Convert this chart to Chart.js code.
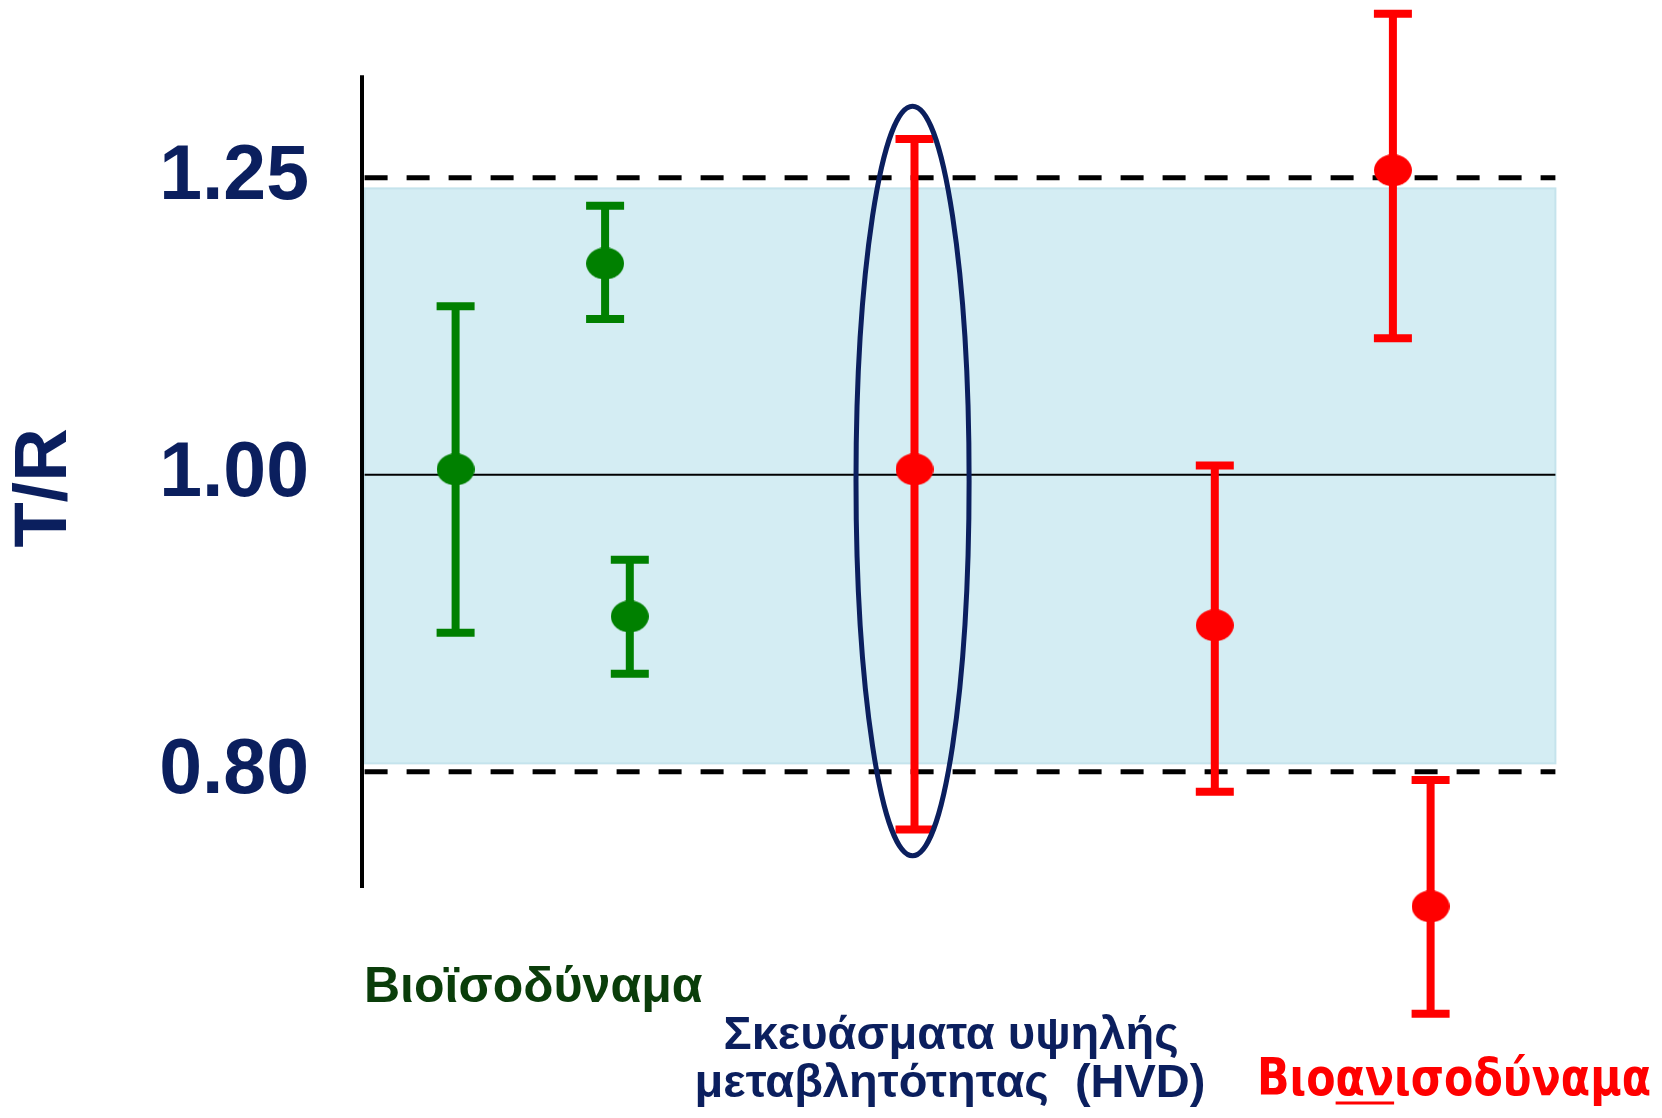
<!DOCTYPE html>
<html>
<head>
<meta charset="utf-8">
<script src="https://cdn.jsdelivr.net/npm/chart.js@4.4.1/dist/chart.umd.min.js"></script>
<style>
  html, body { margin: 0; padding: 0; background: #fff; }
  #wrap { width: 1662px; height: 1118px; }
</style>
</head>
<body>
<div id="wrap"><canvas id="myChart" width="1662" height="1118"></canvas></div>
<script>
// tick labels on the T/R axis (log scale)
const tickValues = [0.8, 1.0, 1.25];

// bioequivalent products (green)
const greenX = [0.72, 1.87, 2.06];
const greenY = [1.004, 1.172, 0.899];
const greenLo = [0.888, 1.124, 0.861];
const greenHi = [1.135, 1.224, 0.938];

// HVD + non-bioequivalent products (red)
const redX = [4.25, 6.56, 7.93, 8.22];
const redY = [1.004, 0.893, 1.257, 0.723];
const redLo = [0.766, 0.788, 1.108, 0.667];
const redHi = [1.287, 1.007, 1.414, 0.795];

// acceptance limits and shaded band
const limits = [0.8, 1.25];
const band = [0.805, 1.24];
const bandX = [0.02, 9.18];
const axisSpan = [0.733, 1.35];

// ellipse round the HVD product
const ellipseX = [3.80, 4.67];
const ellipseY = [0.751, 1.319];

const labels = {
  title: "T/R",
  bio: "Βιοϊσοδύναμα",
  hvd1: "Σκευάσματα υψηλής",
  hvd2: "μεταβλητότητας  (HVD)",
  nonBio: ["Βιο", "αν", "ισοδύναμα"],
};

const NAVY = "#0b1f5e";

function dot(color) {
  const c = document.createElement("canvas");
  c.width = 38;
  c.height = 32;
  const g = c.getContext("2d");
  g.fillStyle = color;
  g.beginPath();
  g.ellipse(19, 16, 19, 16, 0, 0, Math.PI * 2);
  g.fill();
  return c;
}

const errors = {
  0: { x: greenX, lo: greenLo, hi: greenHi, color: "#008000" },
  1: { x: redX, lo: redLo, hi: redHi, color: "#ff0000" },
};

const extras = {
  id: "extras",
  beforeDatasetsDraw(chart) {
    const { ctx, scales: { x, y } } = chart;
    ctx.save();
    ctx.fillStyle = "rgb(212,237,243)";
    ctx.strokeStyle = "rgb(197,227,236)";
    ctx.lineWidth = 2;
    const x0 = x.getPixelForValue(bandX[0]);
    const x1 = x.getPixelForValue(bandX[1]);
    const y0 = y.getPixelForValue(band[1]);
    const y1 = y.getPixelForValue(band[0]);
    ctx.fillRect(x0, y0, x1 - x0, y1 - y0);
    ctx.strokeRect(x0, y0, x1 - x0, y1 - y0);
    ctx.restore();
  },
  beforeDatasetDraw(chart, args) {
    const e = errors[args.index];
    if (!e) return;
    const { ctx, scales: { x, y } } = chart;
    ctx.save();
    ctx.strokeStyle = e.color;
    ctx.lineWidth = 8;
    e.x.forEach((xv, i) => {
      const px = x.getPixelForValue(xv);
      const top = y.getPixelForValue(e.hi[i]);
      const bot = y.getPixelForValue(e.lo[i]);
      ctx.beginPath();
      ctx.moveTo(px, top);
      ctx.lineTo(px, bot);
      ctx.moveTo(px - 19, top);
      ctx.lineTo(px + 19, top);
      ctx.moveTo(px - 19, bot);
      ctx.lineTo(px + 19, bot);
      ctx.stroke();
    });
    ctx.restore();
  },
  afterDatasetsDraw(chart) {
    const { ctx, scales: { x, y } } = chart;
    const l = x.getPixelForValue(ellipseX[0]);
    const r = x.getPixelForValue(ellipseX[1]);
    const t = y.getPixelForValue(ellipseY[1]);
    const b = y.getPixelForValue(ellipseY[0]);
    ctx.save();
    ctx.strokeStyle = NAVY;
    ctx.lineWidth = 5;
    ctx.beginPath();
    ctx.ellipse((l + r) / 2, (t + b) / 2, (r - l) / 2, (b - t) / 2, 0, 0, Math.PI * 2);
    ctx.stroke();
    ctx.restore();
  },
  afterDraw(chart) {
    const { ctx } = chart;
    ctx.save();
    // axis title
    ctx.translate(46, 488);
    ctx.rotate(-Math.PI / 2);
    ctx.fillStyle = NAVY;
    ctx.font = "bold 74px 'Liberation Sans'";
    ctx.textAlign = "center";
    ctx.textBaseline = "middle";
    ctx.fillText(labels.title, 0, 0);
    ctx.restore();

    ctx.save();
    ctx.textBaseline = "alphabetic";
    ctx.fillStyle = "#0a3d0a";
    ctx.font = "bold 50px 'Liberation Sans Narrow', 'Liberation Sans'";
    ctx.textAlign = "left";
    ctx.fillText(labels.bio, 364, 1002);

    ctx.fillStyle = NAVY;
    ctx.font = "bold 47px 'Liberation Sans Narrow', 'Liberation Sans'";
    ctx.textAlign = "center";
    ctx.fillText(labels.hvd1, 951, 1049);
    ctx.fillText(labels.hvd2, 950, 1097);

    // red label, squeezed to the width it has in the picture
    ctx.fillStyle = "#ff0000";
    ctx.strokeStyle = "#ff0000";
    ctx.font = "bold 51px 'DejaVu Sans'";
    ctx.textAlign = "left";
    const full = ctx.measureText(labels.nonBio.join("")).width;
    ctx.translate(1257, 1095);
    ctx.scale(394 / full, 1);
    let px = 0;
    labels.nonBio.forEach((part, i) => {
      ctx.fillText(part, px, 0);
      const w = ctx.measureText(part).width;
      if (i === 1) {
        ctx.lineWidth = 3;
        ctx.beginPath();
        ctx.moveTo(px, 8);
        ctx.lineTo(px + w, 8);
        ctx.stroke();
      }
      px += w;
    });
    ctx.restore();
  },
};

const hLine = (v, from, to) => [{ x: from, y: v }, { x: to, y: v }];

new Chart(document.getElementById("myChart"), {
  type: "scatter",
  data: {
    datasets: [
      {
        data: greenX.map((xv, i) => ({ x: xv, y: greenY[i] })),
        pointStyle: dot("#008000"),
        pointRadius: 19,
      },
      {
        data: redX.map((xv, i) => ({ x: xv, y: redY[i] })),
        pointStyle: dot("#ff0000"),
        pointRadius: 19,
      },
      {
        type: "line",
        data: hLine(limits[1], bandX[0], bandX[1]),
        borderColor: "#000",
        borderWidth: 5,
        borderDash: [23, 19],
        pointRadius: 0,
      },
      {
        type: "line",
        data: hLine(limits[0], bandX[0], bandX[1]),
        borderColor: "#000",
        borderWidth: 5,
        borderDash: [23, 19],
        pointRadius: 0,
      },
      {
        type: "line",
        data: hLine(1.0, bandX[0], bandX[1]),
        borderColor: "#000",
        borderWidth: 2,
        pointRadius: 0,
      },
      {
        type: "line",
        data: [{ x: 0, y: axisSpan[0] }, { x: 0, y: axisSpan[1] }],
        borderColor: "#000",
        borderWidth: 4,
        pointRadius: 0,
        clip: false,
      },
    ],
  },
  options: {
    responsive: false,
    animation: false,
    devicePixelRatio: 1,
    layout: { autoPadding: false, padding: { top: 8, bottom: 70, left: 0, right: 0 } },
    scales: {
      x: {
        type: "linear",
        min: 0,
        max: 10,
        display: false,
      },
      y: {
        type: "logarithmic",
        min: 0.65,
        max: 1.42,
        bounds: "data",
        afterFit: (scale) => {
          scale.width = 362;
          scale.paddingTop = 0;
          scale.paddingBottom = 0;
        },
        afterBuildTicks: (scale) => {
          scale.ticks = tickValues.map((v) => ({ value: v }));
        },
        grid: { display: false, drawTicks: false },
        border: { display: false },
        ticks: {
          padding: 53,
          color: NAVY,
          font: { family: "'Liberation Sans'", size: 77, weight: "bold" },
          callback: (v) => Number(v).toFixed(2),
        },
      },
    },
    plugins: {
      legend: { display: false },
      tooltip: { enabled: false },
    },
  },
  plugins: [extras],
});
</script>
</body>
</html>
